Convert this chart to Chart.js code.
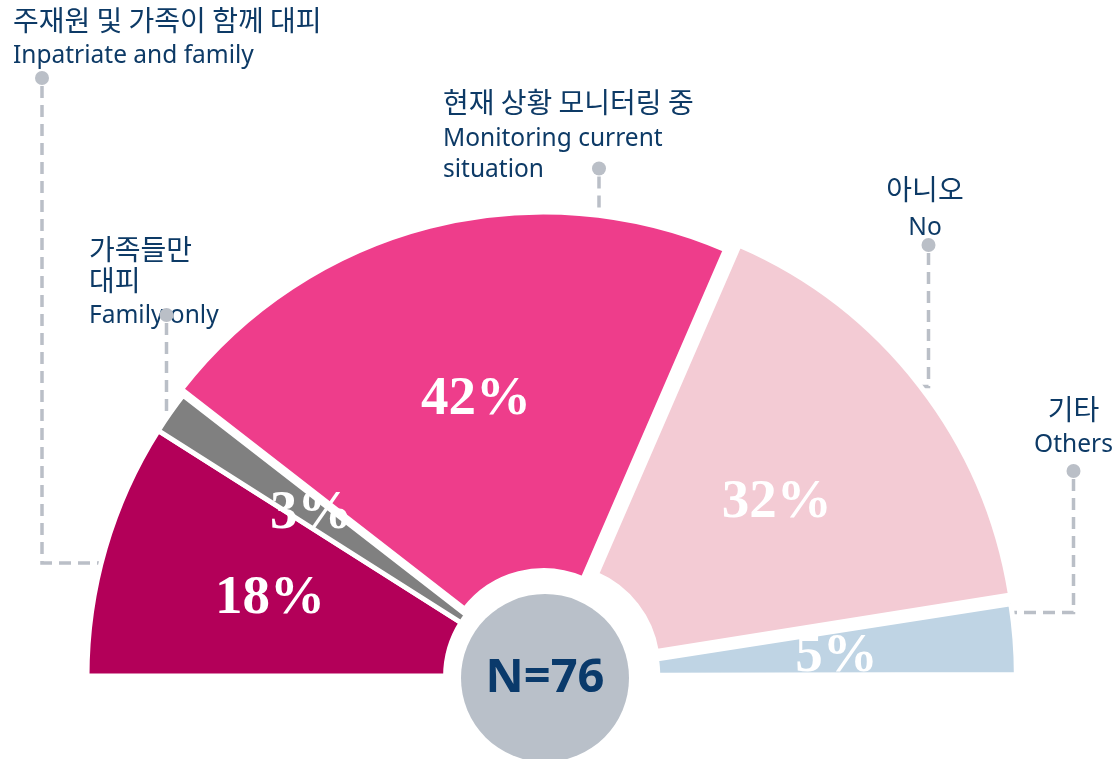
<!DOCTYPE html>
<html lang="ko">
<head>
<meta charset="utf-8">
<title>대피 현황</title>
<script src="https://cdn.jsdelivr.net/npm/chart.js@4.4.1/dist/chart.umd.min.js"></script>
<style>
  html, body { margin: 0; padding: 0; background: #fff; }
  #wrap { width: 1116px; height: 759px; }
</style>
</head>
<body>
<div id="wrap"><canvas id="chart" width="1116" height="759"></canvas></div>
<script>
// answers, left to right over the half circle
const categoriesKo = [['주재원 및 가족이 함께 대피'], ['가족들만', '대피'], ['현재 상황 모니터링 중'], ['아니오'], ['기타']];
const categoriesEn = [['Inpatriate and family'], ['Family only'], ['Monitoring current', 'situation'], ['No'], ['Others']];
const shares = [18, 3, 42, 32, 5];
const sampleSize = 76;

const sliceColors = ['#b30059', '#808080', '#ee3d8b', '#f3cbd4', '#bfd4e4'];
const sliceOffsets = [0, 0, 24, 56, 29];

const TEXT = '#0d3a66';
const LEADER = '#babfc7';

// where each callout's text sits and how its dashed leader runs
const callouts = [
  { x: 13, align: 'left', baselines: [31, 63], path: [[42, 78], [42, 563], [100, 563]] },
  { x: 89, align: 'left', baselines: [259.5, 291, 323], path: [[166.5, 315], [166.5, 418]] },
  { x: 443, align: 'left', baselines: [113, 146, 177], path: [[599, 168.5], [599, 222]] },
  { x: 925, align: 'center', baselines: [200, 235], path: [[928.5, 245], [928.5, 386.5], [902, 386.5]] },
  { x: 1073.5, align: 'center', baselines: [420, 452], path: [[1073.5, 471], [1073.5, 612.5], [1010, 612.5]] }
];

const annotations = {
  id: 'annotations',
  beforeDatasetsDraw(chart) {
    const ctx = chart.ctx;
    ctx.save();
    ctx.strokeStyle = LEADER;
    ctx.lineWidth = 3.5;
    ctx.setLineDash([12, 7]);
    callouts.forEach(c => {
      ctx.beginPath();
      c.path.forEach((p, i) => i === 0 ? ctx.moveTo(p[0], p[1] + 8) : ctx.lineTo(p[0], p[1]));
      ctx.stroke();
    });
    ctx.restore();
  },
  afterDatasetsDraw(chart) {
    const ctx = chart.ctx;
    const arcs = chart.getDatasetMeta(0).data;
    ctx.save();
    ctx.fillStyle = '#ffffff';
    ctx.font = 'bold 55px "Liberation Serif"';
    ctx.textAlign = 'center';
    ctx.textBaseline = 'middle';
    arcs.forEach((arc, i) => {
      const mid = (arc.startAngle + arc.endAngle) / 2;
      const r = arc.innerRadius + 0.53 * (arc.outerRadius - arc.innerRadius);
      ctx.fillText(shares[i] + '%', arc.x + Math.cos(mid) * r + 3, arc.y + Math.sin(mid) * r + 4);
    });

    // sample size badge in the hole
    const cx = arcs[0].x, cy = arcs[0].y + 2;
    ctx.beginPath();
    ctx.arc(cx, cy, 84, 0, Math.PI * 2);
    ctx.fillStyle = '#b9c0c9';
    ctx.fill();
    ctx.fillStyle = '#0a3a6b';
    ctx.font = 'bold 47px "Open Sans"';
    ctx.fillText('N=' + sampleSize, cx, cy + 1);
    ctx.restore();
  },
  afterDraw(chart) {
    const ctx = chart.ctx;
    ctx.save();
    ctx.fillStyle = TEXT;
    ctx.textBaseline = 'alphabetic';
    callouts.forEach((c, i) => {
      const lines = categoriesKo[i].map(t => [t, '28px "Noto Sans CJK KR"'])
        .concat(categoriesEn[i].map(t => [t, '24.5px "Noto Sans"']));
      ctx.textAlign = c.align;
      lines.forEach((l, j) => {
        ctx.font = l[1];
        ctx.fillText(l[0], c.x, c.baselines[j]);
      });
    });
    ctx.fillStyle = LEADER;
    callouts.forEach(c => {
      ctx.beginPath();
      ctx.arc(c.path[0][0], c.path[0][1], 7, 0, Math.PI * 2);
      ctx.fill();
    });
    ctx.restore();
  }
};

new Chart(document.getElementById('chart'), {
  type: 'doughnut',
  data: {
    labels: categoriesEn.map(l => l.join(' ')),
    datasets: [{
      data: shares,
      backgroundColor: sliceColors,
      borderColor: '#ffffff',
      borderWidth: 5,
      offset: sliceOffsets,
      hoverOffset: 0,
      radius: 458
    }]
  },
  options: {
    responsive: false,
    animation: false,
    devicePixelRatio: 1,
    events: [],
    rotation: -90,
    circumference: 180,
    radius: 458,
    cutout: '21.7%',
    layout: { padding: { left: 0, right: 26, top: 135, bottom: 0 } },
    plugins: { legend: { display: false }, tooltip: { enabled: false } }
  },
  plugins: [annotations]
});
</script>
</body>
</html>
